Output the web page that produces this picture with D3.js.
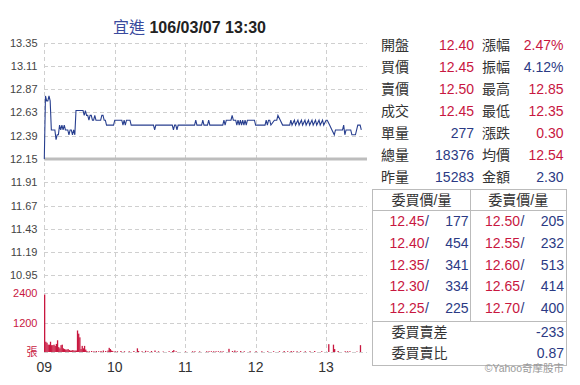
<!DOCTYPE html>
<html>
<head>
<meta charset="utf-8">
<script src="https://cdn.jsdelivr.net/npm/d3@7"></script>
<style>
  body { margin: 0; background: #fff; }
  svg { display: block; font-family: "Liberation Sans", Arial, "Noto Sans CJK TC", sans-serif; }
</style>
</head>
<body>
<svg width="580" height="385"></svg>
<script>
  // stock + timestamp
  const stockName = "宜進";
  const stamp = "106/03/07 13:30";
  const prevClose = 12.15;

  // axis ticks
  const priceTicks = [13.35, 13.11, 12.87, 12.63, 12.39, 12.15, 11.91, 11.67, 11.43, 11.19, 10.95];
  const volTicks = [2400, 1200];
  const volUnit = "張";
  const hourTicks = [0, 60, 120, 180, 240]; // minutes after 09:00
  const hourLabels = ["09", "10", "11", "12", "13"];

  // price line: [minute after 09:00, price]
  const pricePoints = [[0,12.15],[1,12.80],[2,12.75],[3,12.75],[4,12.80],[5,12.75],[6,12.45],[9,12.45],[10,12.35],[11,12.40],[12,12.40],[13,12.50],[14,12.45],[15,12.50],[16,12.45],[17,12.50],[18,12.45],[19,12.45],[20,12.45],[21,12.40],[22,12.45],[23,12.45],[24,12.40],[25,12.45],[26,12.40],[27,12.65],[33,12.65],[34,12.60],[35,12.65],[36,12.60],[37,12.60],[38,12.55],[39,12.60],[40,12.60],[41,12.55],[42,12.55],[43,12.60],[44,12.55],[48,12.55],[49,12.60],[50,12.60],[51,12.55],[52,12.55],[53,12.50],[59,12.50],[60,12.55],[66,12.55],[67,12.50],[68,12.55],[69,12.50],[70,12.55],[73,12.55],[74,12.50],[93,12.50],[94,12.45],[95,12.50],[109,12.50],[110,12.45],[111,12.50],[112,12.50],[113,12.45],[114,12.50],[128,12.50],[129,12.55],[130,12.50],[134,12.50],[135,12.55],[136,12.50],[139,12.50],[140,12.55],[141,12.50],[152,12.50],[153,12.55],[154,12.50],[155,12.55],[159,12.55],[160,12.60],[161,12.55],[163,12.55],[164,12.50],[165,12.55],[166,12.50],[167,12.55],[168,12.50],[169,12.55],[170,12.50],[171,12.55],[172,12.50],[173,12.55],[179,12.55],[180,12.50],[188,12.50],[189,12.55],[190,12.50],[191,12.55],[192,12.55],[193,12.50],[196,12.55],[198,12.55],[199,12.60],[201,12.55],[203,12.50],[209,12.50],[210,12.55],[211,12.50],[213,12.55],[214,12.50],[216,12.55],[217,12.50],[219,12.55],[220,12.50],[222,12.55],[223,12.50],[225,12.55],[226,12.50],[228,12.55],[229,12.50],[231,12.55],[232,12.50],[234,12.55],[235,12.50],[237,12.55],[238,12.50],[240,12.55],[241,12.55],[243,12.50],[245,12.45],[247,12.40],[248,12.45],[254,12.45],[255,12.50],[256,12.40],[257,12.45],[261,12.45],[262,12.40],[265,12.40],[267,12.50],[269,12.50],[270,12.45]];

  // volume bars: [minute after 09:00, lots]
  const volPoints = [[0,2350],[1,420],[2,380],[3,300],[4,300],[5,420],[6,280],[7,280],[8,300],[9,250],[10,330],[11,480],[12,200],[13,150],[14,280],[15,300],[16,150],[17,120],[18,100],[19,100],[20,120],[21,80],[22,60],[23,60],[24,80],[25,60],[26,60],[27,60],[28,880],[29,750],[30,600],[31,120],[32,250],[33,150],[34,250],[35,100],[36,40],[38,30],[40,40],[42,30],[44,40],[46,30],[48,40],[50,60],[52,40],[54,60],[55,170],[56,120],[57,60],[58,40],[60,30],[62,30],[65,40],[68,30],[72,30],[76,40],[79,150],[80,40],[83,30],[86,50],[88,30],[91,40],[94,60],[97,30],[101,20],[106,30],[109,40],[110,80],[112,30],[120,20],[126,30],[128,30],[132,25],[138,30],[140,30],[142,30],[144,30],[146,30],[148,30],[150,30],[152,30],[157,130],[160,40],[162,60],[164,30],[167,40],[170,30],[175,30],[180,30],[185,30],[190,30],[195,30],[200,30],[204,40],[207,30],[210,40],[212,30],[215,30],[218,30],[222,30],[226,30],[230,40],[236,30],[242,320],[246,300],[247,120],[250,40],[256,30],[258,30],[260,30],[266,20],[269,280]];

  // quote panel
  const quoteLeft = [["開盤","12.40"],["買價","12.45"],["賣價","12.50"],["成交","12.45"],["單量","277"],["總量","18376"],["昨量","15283"]];
  const quoteRight = [["漲幅","2.47%"],["振幅","4.12%"],["最高","12.85"],["最低","12.35"],["漲跌","0.30"],["均價","12.54"],["金額","2.30"]];
  const priceFields = ["開盤","買價","賣價","成交","漲幅","最高","最低","漲跌","均價"]; // shown red

  // order book
  const bookHeads = ["委買價/量", "委賣價/量"];
  const bidPrices = ["12.45","12.40","12.35","12.30","12.25"];
  const bidVols = [177, 454, 341, 334, 225];
  const askPrices = ["12.50","12.55","12.60","12.65","12.70"];
  const askVols = [205, 232, 513, 414, 400];
  const bookSummary = [["委買賣差","-233"],["委買賣比","0.87"]];
  const credit = "©Yahoo奇摩股市";

  const RED = "#c8173f", NAVY = "#2b3a84", INK = "#333";

  const svg = d3.select("svg");

  //scales
  const x = d3.scaleLinear().domain([0, 270]).range([44.3, 361.3]);
  const y = d3.scaleLinear().domain([10.95, 13.35]).range([275.3, 42.7]);
  const yv = d3.scaleLinear().domain([0, 2400]).range([352, 293.3]);
  const gridRight = 367;

  // title
  const title = svg.append("text")
    .attr("x", 189.5).attr("y", 33)
    .attr("text-anchor", "middle")
    .style("font-size", "16px");
  title.append("tspan").attr("fill", "#3a4b9e").text(stockName + " ");
  title.append("tspan").attr("fill", "#222").attr("font-weight", "bold").text(stamp);

  // grid
  const grid = svg.append("g")
    .attr("stroke", "#cfcfcf")
    .attr("stroke-dasharray", "4,3")
    .attr("shape-rendering", "crispEdges");
  grid.selectAll(".hp").data(priceTicks).enter().append("line")
    .attr("x1", x(0)).attr("x2", gridRight)
    .attr("y1", d => Math.round(y(d)) + 0.5).attr("y2", d => Math.round(y(d)) + 0.5);
  grid.selectAll(".hv").data([0].concat(volTicks)).enter().append("line")
    .attr("x1", x(0)).attr("x2", gridRight)
    .attr("y1", d => Math.round(yv(d)) + 0.5).attr("y2", d => Math.round(yv(d)) + 0.5);
  grid.selectAll(".vx").data(hourTicks).enter().append("line")
    .attr("x1", d => Math.round(x(d)) + 0.5).attr("x2", d => Math.round(x(d)) + 0.5)
    .attr("y1", y(13.35)).attr("y2", yv(0));

  // prev close bar
  svg.append("line")
    .attr("x1", x(0)).attr("x2", gridRight)
    .attr("y1", y(prevClose)).attr("y2", y(prevClose))
    .attr("stroke", "#bdbdbd").attr("stroke-width", 3);

  // y labels
  svg.append("g").selectAll("text").data(priceTicks).enter().append("text")
    .attr("x", 37.5).attr("y", d => y(d) + 4)
    .attr("text-anchor", "end").attr("fill", "#444")
    .style("font-size", "11px")
    .text(d => d.toFixed(2));
  svg.append("g").selectAll("text").data(volTicks).enter().append("text")
    .attr("x", 37.5).attr("y", d => yv(d) + 4)
    .attr("text-anchor", "end").attr("fill", RED)
    .style("font-size", "11px")
    .text(d => d);
  svg.append("text")
    .attr("x", 37.5).attr("y", yv(0) + 4)
    .attr("text-anchor", "end").attr("fill", RED)
    .style("font-size", "11px")
    .text(volUnit);

  // x labels
  svg.append("g").selectAll("text").data(hourTicks).enter().append("text")
    .attr("x", d => x(d)).attr("y", 371.5)
    .attr("text-anchor", "middle").attr("fill", INK)
    .style("font-size", "14px")
    .text((d, i) => hourLabels[i]);

  // volume bars
  svg.append("g").selectAll("rect").data(volPoints).enter().append("rect")
    .attr("x", d => x(d[0]) - 0.3)
    .attr("width", 1.3)
    .attr("y", d => yv(d[1]))
    .attr("height", d => yv(0) - yv(d[1]))
    .attr("fill", RED);

  // price line
  const line = d3.line().x(d => x(d[0])).y(d => y(d[1]));
  svg.append("path")
    .datum(pricePoints)
    .attr("fill", "none")
    .attr("stroke", "#283f8f")
    .attr("stroke-width", 1.1)
    .attr("d", line);

  // quote panel
  const rowY = i => 45 + i * 21.95 + 5;
  const qp = svg.append("g").style("font-size", "14px");
  quoteLeft.forEach((d, i) => {
    qp.append("text").attr("x", 381).attr("y", rowY(i)).attr("fill", INK).text(d[0]);
    qp.append("text").attr("x", 474).attr("y", rowY(i)).attr("text-anchor", "end")
      .attr("fill", priceFields.includes(d[0]) ? RED : NAVY).text(d[1]);
  });
  quoteRight.forEach((d, i) => {
    qp.append("text").attr("x", 482).attr("y", rowY(i)).attr("fill", INK).text(d[0]);
    qp.append("text").attr("x", 563.5).attr("y", rowY(i)).attr("text-anchor", "end")
      .attr("fill", priceFields.includes(d[0]) ? RED : NAVY).text(d[1]);
  });

  // order book box
  const bx0 = 372.5, bx1 = 566, bxm = 470.5, by0 = 189.5, byh = 210.5, bys = 321.5, by1 = 365;
  const box = svg.append("g").attr("stroke", "#bbb").attr("fill", "none").attr("shape-rendering", "crispEdges");
  box.append("rect").attr("x", bx0).attr("y", by0).attr("width", bx1 - bx0).attr("height", by1 - by0);
  box.append("line").attr("x1", bx0).attr("x2", bx1).attr("y1", byh).attr("y2", byh);
  box.append("line").attr("x1", bx0).attr("x2", bx1).attr("y1", bys).attr("y2", bys);
  box.append("line").attr("x1", bxm).attr("x2", bxm).attr("y1", by0).attr("y2", bys);

  const bk = svg.append("g").style("font-size", "14px");
  bookHeads.forEach((h, i) => {
    bk.append("text").attr("x", i ? (bxm + bx1) / 2 : (bx0 + bxm) / 2).attr("y", 205)
      .attr("text-anchor", "middle").attr("fill", INK).text(h);
  });
  const bookRow = i => 220.7 + i * 21.9 + 5;
  bidPrices.forEach((p, i) => {
    bk.append("text").attr("x", 424.5).attr("y", bookRow(i)).attr("text-anchor", "end").attr("fill", RED).text(p);
    bk.append("text").attr("x", 425).attr("y", bookRow(i)).attr("fill", NAVY).text("/");
    bk.append("text").attr("x", 468.5).attr("y", bookRow(i)).attr("text-anchor", "end").attr("fill", NAVY).text(bidVols[i]);
  });
  askPrices.forEach((p, i) => {
    bk.append("text").attr("x", 520).attr("y", bookRow(i)).attr("text-anchor", "end").attr("fill", RED).text(p);
    bk.append("text").attr("x", 520.5).attr("y", bookRow(i)).attr("fill", NAVY).text("/");
    bk.append("text").attr("x", 564).attr("y", bookRow(i)).attr("text-anchor", "end").attr("fill", NAVY).text(askVols[i]);
  });
  bookSummary.forEach((d, i) => {
    const yy = 331.7 + i * 21 + 5;
    bk.append("text").attr("x", 391.5).attr("y", yy).attr("fill", INK).text(d[0]);
    bk.append("text").attr("x", 564).attr("y", yy).attr("text-anchor", "end").attr("fill", NAVY).text(d[1]);
  });

  svg.append("text")
    .attr("x", 564).attr("y", 372)
    .attr("text-anchor", "end").attr("fill", "#999")
    .style("font-size", "10.5px")
    .text(credit);
</script>
</body>
</html>
